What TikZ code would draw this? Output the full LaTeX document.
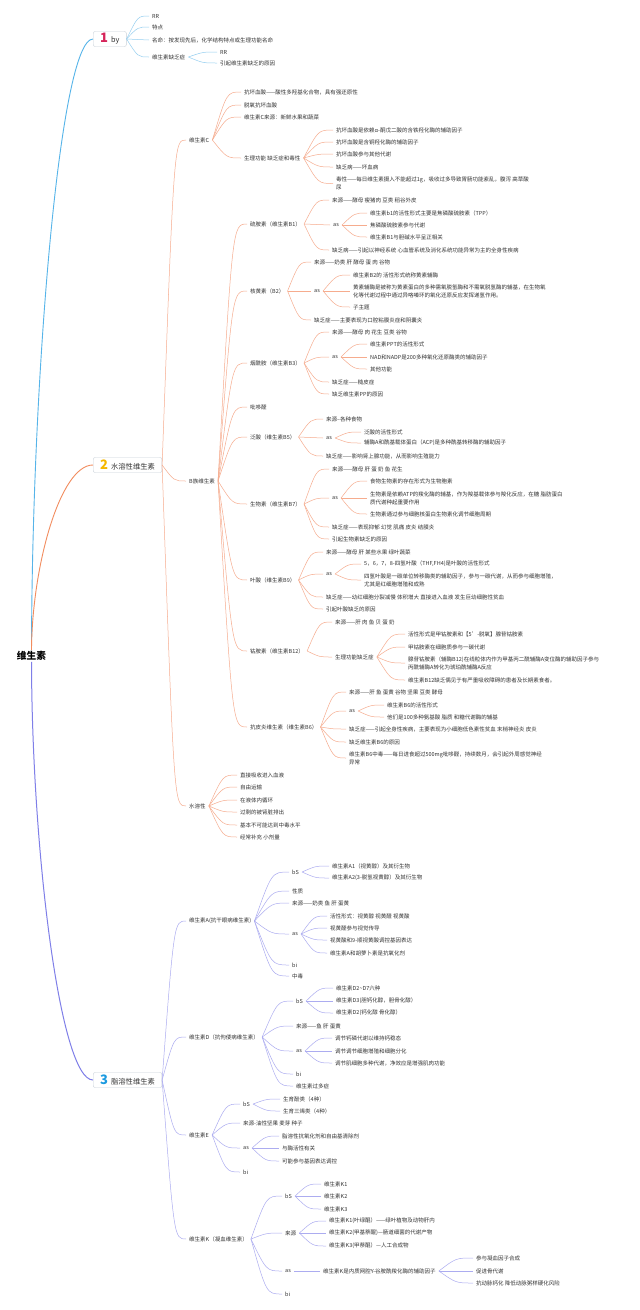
\documentclass[tikz,border=0pt]{standalone}
\usepackage{fontspec}
\setmainfont{Noto Sans CJK SC}
\usepackage{xcolor}
\definecolor{ink}{RGB}{51,51,51}
\definecolor{boxgray}{RGB}{200,208,216}
\definecolor{numRed}{RGB}{214,36,90}
\definecolor{numYellow}{RGB}{245,183,0}
\definecolor{numBlue}{RGB}{27,154,224}
\definecolor{trunkBlue}{RGB}{86,180,233}
\definecolor{trunkOrange}{RGB}{242,140,94}
\definecolor{trunkPurple}{RGB}{127,127,232}
\definecolor{twigBlue}{RGB}{150,207,240}
\definecolor{twigOrange}{RGB}{246,172,142}
\definecolor{twigPurple}{RGB}{172,172,240}
\usetikzlibrary{calc}
\newcommand{\badgenum}[2]{{\fontsize{13}{13}\selectfont\bfseries\color{#1}#2}\hspace{3pt}}

\begin{document}
\begin{tikzpicture}[x=1pt, y=-1pt,
  leaf/.style={anchor=west, xshift=-3pt, inner xsep=3pt, inner ysep=0.5pt,
               font=\fontsize{5.5}{8}\selectfont, text=ink, align=left},
  badge/.style={draw=boxgray, fill=white, rounded corners=2pt, anchor=west,
                minimum height=15pt, inner xsep=7pt, inner ysep=0pt,
                font=\fontsize{7.3}{8}\selectfont, text=ink},
  curvy/.style={to path={let \p1=(\tikztostart), \p2=(\tikztotarget) in
                 .. controls ({0.5*(\x1+\x2)},\y2) .. (\tikztotarget)}},
  blink/.style={draw=twigBlue, line width=0.5pt},
  olink/.style={draw=twigOrange, line width=0.5pt},
  plink/.style={draw=twigPurple, line width=0.5pt}
]
  \path[use as bounding box, fill=white] (0,0) rectangle (640,1310);

  % root and the three main branches
  \node[font=\fontsize{9.7}{10}\selectfont\bfseries, text=black, inner sep=1pt] (root) at (31.5,656) {维生素};
  \node[badge] (b1) at (93,39)   {\badgenum{numRed}{1}by};
  \node[badge] (b2) at (93,465)  {\badgenum{numYellow}{2}水溶性维生素};
  \node[badge] (b3) at (93,1080) {\badgenum{numBlue}{3}脂溶性维生素};

  \draw[trunkBlue, line width=0.9pt]   (root.north) .. controls (32,375) and (60,39) .. (b1.west);
  \draw[trunkOrange, line width=0.9pt] (root.north) .. controls (32,567) and (60,465) .. (b2.west);
  \draw[trunkPurple, line width=1pt]   (root.south) .. controls (32,850) and (60,1080) .. (b3.west);

  % 1 by
  \node[leaf] (r1) at (152,16) {RR};
  \node[leaf] (r2) at (152,27) {特点};
  \node[leaf] (r3) at (152,40) {名命：按发现先后，化学结构特点或生理功能名命};
  \node[leaf] (r4) at (152,57) {维生素缺乏症};
  \node[leaf] (r41) at (220,52) {RR};
  \node[leaf] (r42) at (220,63) {引起维生素缺乏的原因};
  \foreach \c in {r1,r2,r3,r4} \draw[blink] (b1.east) to[curvy] (\c.west);
  \foreach \c in {r41,r42} \draw[blink] (r4.east) to[curvy] (\c.west);

  % 2 水溶性维生素
  \node[leaf] (vc) at (189,140) {维生素C};
  \node[leaf] (vb) at (189,481) {B族维生素};
  \node[leaf] (vs) at (189,806) {水溶性};
  \foreach \c in {vc,vb,vs} \draw[olink] (b2.east) to[curvy] (\c.west);

  % vitamin C
  \node[leaf] (vc1) at (244,92)  {抗坏血酸——酸性多羟基化合物，具有强还原性};
  \node[leaf] (vc2) at (244,105) {脱氧抗坏血酸};
  \node[leaf] (vc3) at (244,117) {维生素C来源：新鲜水果和蔬菜};
  \node[leaf] (vc4) at (244,158) {生理功能 缺乏症和毒性};
  \node[leaf] (vc41) at (336,130) {抗坏血酸是依赖α-酮戊二酸的含铁羟化酶的辅助因子};
  \node[leaf] (vc42) at (336,142) {抗坏血酸是含铜羟化酶的辅助因子};
  \node[leaf] (vc43) at (336,154) {抗坏血酸参与其他代谢};
  \node[leaf] (vc44) at (336,167) {缺乏病——坏血病};
  \node[leaf] (vc45) at (336,183.5) {毒性——每日维生素摄入不能超过1g，吸收过多导致胃肠功能紊乱，腹泻 高草酸\\尿};
  \foreach \c in {vc1,vc2,vc3,vc4} \draw[olink] (vc.east) to[curvy] (\c.west);
  \foreach \c in {vc41,vc42,vc43,vc44,vc45} \draw[olink] (vc4.east) to[curvy] (\c.west);

  % B group
  \node[leaf] (vb1) at (250,224) {硫胺素（维生素B1）};
  \node[leaf] (vb2) at (250,291) {核黄素（B2）};
  \node[leaf] (vb3) at (250,363) {烟酰胺（维生素B3）};
  \node[leaf] (vb4) at (250,407) {吡哆醛};
  \node[leaf] (vb5) at (250,437) {泛酸（维生素B5）};
  \node[leaf] (vb7) at (250,504) {生物素（维生素B7）};
  \node[leaf] (vb9) at (250,580) {叶酸（维生素B9）};
  \node[leaf] (vbt) at (250,651) {钴胺素（维生素B12）};
  \node[leaf] (vb6) at (250,727) {抗皮炎维生素（维生素B6）};
  \foreach \c in {vb1,vb2,vb3,vb4,vb5,vb7,vb9,vbt,vb6} \draw[olink] (vb.east) to[curvy] (\c.west);

  \node[leaf] (vb11) at (332,200) {来源——酵母 瘦猪肉 豆类 稻谷外皮};
  \node[leaf] (vb12) at (333,225) {as};
  \node[leaf] (vb13) at (332,250) {缺乏病——引起以神经系统 心血管系统及消化系统功能异常为主的全身性疾病};
  \node[leaf] (vb121) at (370,213) {维生素b1的活性形式主要是焦磷酸硫胺素（TPP）};
  \node[leaf] (vb122) at (370,225) {焦磷酸硫胺素参与代谢};
  \node[leaf] (vb123) at (370,237) {维生素B1与胆碱水平呈正相关};
  \foreach \c in {vb11,vb12,vb13} \draw[olink] (vb1.east) to[curvy] (\c.west);
  \foreach \c in {vb121,vb122,vb123} \draw[olink] (vb12.east) to[curvy] (\c.west);

  \node[leaf] (vb21) at (314,262) {来源——奶类 肝 酵母 蛋 肉 谷物};
  \node[leaf] (vb22) at (314,291) {as};
  \node[leaf] (vb23) at (314,320) {缺乏症——主要表现为口腔粘膜炎症和阴囊炎};
  \node[leaf] (vb221) at (353,275) {维生素B2的 活性形式统称黄素辅酶};
  \node[leaf] (vb222) at (353,291) {黄素辅酶是被称为黄素蛋白的多种需氧脱氢酶和不需氧脱氢酶的辅基，在生物氧\\化等代谢过程中通过异咯嗪环的氧化还原反应发挥递氢作用。};
  \node[leaf] (vb223) at (353,307) {子主题};
  \foreach \c in {vb21,vb22,vb23} \draw[olink] (vb2.east) to[curvy] (\c.west);
  \foreach \c in {vb221,vb222,vb223} \draw[olink] (vb22.east) to[curvy] (\c.west);

  \node[leaf] (vb31) at (332,332) {来源——酵母 肉 花生 豆类 谷物};
  \node[leaf] (vb32) at (332,357) {as};
  \node[leaf] (vb33) at (332,382) {缺乏症——糙皮症};
  \node[leaf] (vb34) at (332,394) {缺乏维生素PP的原因};
  \node[leaf] (vb321) at (370,344) {维生素PPT的活性形式};
  \node[leaf] (vb322) at (370,357) {NAD和NADP是200多种氧化还原酶类的辅助因子};
  \node[leaf] (vb323) at (370,369) {其他功能};
  \foreach \c in {vb31,vb32,vb33,vb34} \draw[olink] (vb3.east) to[curvy] (\c.west);
  \foreach \c in {vb321,vb322,vb323} \draw[olink] (vb32.east) to[curvy] (\c.west);

  \node[leaf] (vb51) at (326,419) {来源--各种食物};
  \node[leaf] (vb52) at (326,438) {as};
  \node[leaf] (vb53) at (326,456) {缺乏症——影响肾上腺功能，从而影响生殖能力};
  \node[leaf] (vb521) at (364,432) {泛酸的活性形式};
  \node[leaf] (vb522) at (364,443) {辅酶A和酰基载体蛋白（ACP)是多种酰基转移酶的辅助因子};
  \foreach \c in {vb51,vb52,vb53} \draw[olink] (vb5.east) to[curvy] (\c.west);
  \foreach \c in {vb521,vb522} \draw[olink] (vb52.east) to[curvy] (\c.west);

  \node[leaf] (vb71) at (332,469) {来源——酵母 肝 蛋 奶 鱼 花生};
  \node[leaf] (vb72) at (332,498) {as};
  \node[leaf] (vb73) at (332,527) {缺乏症——表现抑郁 幻觉 肌痛 皮炎 结膜炎};
  \node[leaf] (vb74) at (332,539) {引起生物素缺乏的原因};
  \node[leaf] (vb721) at (370,481) {食物生物素的存在形式为生物胞素};
  \node[leaf] (vb722) at (370,498) {生物素是依赖ATP的羧化酶的辅基，作为羧基载体参与羧化反应，在糖 脂肪蛋白\\质代谢种起重要作用};
  \node[leaf] (vb723) at (370,514) {生物素通过参与细胞核蛋白生物素化调节细胞周期};
  \foreach \c in {vb71,vb72,vb73,vb74} \draw[olink] (vb7.east) to[curvy] (\c.west);
  \foreach \c in {vb721,vb722,vb723} \draw[olink] (vb72.east) to[curvy] (\c.west);

  \node[leaf] (vb91) at (326,552) {来源——酵母 肝 某些水果 绿叶蔬菜};
  \node[leaf] (vb92) at (326,574) {as};
  \node[leaf] (vb93) at (326,597) {缺乏症——幼红细胞分裂减慢 体积增大 直接进入血液 发生巨幼细胞性贫血};
  \node[leaf] (vb94) at (326,609) {引起叶酸缺乏的原因};
  \node[leaf] (vb921) at (364,564) {5，6，7，8-四氢叶酸（THF,FH4)是叶酸的活性形式};
  \node[leaf] (vb922) at (364,580) {四氢叶酸是一碳单位转移酶类的辅助因子，参与一碳代谢，从而参与细胞增殖，\\尤其是红细胞增殖和成熟};
  \foreach \c in {vb91,vb92,vb93,vb94} \draw[olink] (vb9.east) to[curvy] (\c.west);
  \foreach \c in {vb921,vb922} \draw[olink] (vb92.east) to[curvy] (\c.west);

  \node[leaf] (vbt1) at (335,622) {来源——肝 肉 鱼 贝 蛋 奶};
  \node[leaf] (vbt2) at (335,657) {生理功能缺乏症};
  \node[leaf] (vbt21) at (408,634) {活性形式是甲钴胺素和【5'-脱氧】腺苷钴胺素};
  \node[leaf] (vbt22) at (408,647) {甲钴胺素在细胞质参与一碳代谢};
  \node[leaf] (vbt23) at (408,663) {腺苷钴胺素（辅酶B12)在线粒体内作为甲基丙二酰辅酶A变位酶的辅助因子参与\\丙酰辅酶A转化为琥珀酰辅酶A反应};
  \node[leaf] (vbt24) at (408,680) {维生素B12缺乏偶见于有严重吸收障碍的患者及长期素食者。};
  \foreach \c in {vbt1,vbt2} \draw[olink] (vbt.east) to[curvy] (\c.west);
  \foreach \c in {vbt21,vbt22,vbt23,vbt24} \draw[olink] (vbt2.east) to[curvy] (\c.west);

  \node[leaf] (vb61) at (349,692) {来源——肝 鱼 蛋黄 谷物 坚果 豆类 酵母};
  \node[leaf] (vb62) at (349,711) {as};
  \node[leaf] (vb63) at (349,729) {缺乏症——引起全身性疾病，主要表现为小细胞低色素性贫血 末梢神经炎 皮炎};
  \node[leaf] (vb64) at (349,742) {缺乏维生素B6的原因};
  \node[leaf] (vb65) at (349,758) {维生素B6中毒——每日进食超过500mg吡哆醛，持续数月，会引起外周感觉神经\\异常};
  \node[leaf] (vb621) at (387,705) {维生素B6的活性形式};
  \node[leaf] (vb622) at (387,717) {他们是100多种氨基酸 脂质 和糖代谢酶的辅基};
  \foreach \c in {vb61,vb62,vb63,vb64,vb65} \draw[olink] (vb6.east) to[curvy] (\c.west);
  \foreach \c in {vb621,vb622} \draw[olink] (vb62.east) to[curvy] (\c.west);

  % water soluble traits
  \node[leaf] (vs1) at (240,775) {直接吸收进入血液};
  \node[leaf] (vs2) at (240,787) {自由运输};
  \node[leaf] (vs3) at (240,800) {在液体内循环};
  \node[leaf] (vs4) at (240,812) {过剩的被肾脏排出};
  \node[leaf] (vs5) at (240,825) {基本不可能达到中毒水平};
  \node[leaf] (vs6) at (240,837) {经常补充 小剂量};
  \foreach \c in {vs1,vs2,vs3,vs4,vs5,vs6} \draw[olink] (vs.east) to[curvy] (\c.west);

  % 3 脂溶性维生素
  \node[leaf] (va) at (189,921)  {维生素A(抗干眼病维生素)};
  \node[leaf] (vd) at (189,1037) {维生素D（抗佝偻病维生素）};
  \node[leaf] (ve) at (189,1135) {维生素E};
  \node[leaf] (vk) at (189,1239) {维生素K（凝血维生素）};
  \foreach \c in {va,vd,ve,vk} \draw[plink] (b3.east) to[curvy] (\c.west);

  % vitamin A
  \node[leaf] (va1) at (292,872) {bS};
  \node[leaf] (va2) at (292,891) {性质};
  \node[leaf] (va3) at (292,903) {来源——奶类 鱼 肝 蛋黄};
  \node[leaf] (va4) at (292,934) {as};
  \node[leaf] (va5) at (292,965) {bi};
  \node[leaf] (va6) at (292,976) {中毒};
  \node[leaf] (va11) at (332,866) {维生素A1（视黄醇）及其衍生物};
  \node[leaf] (va12) at (332,878) {维生素A2(3-脱氢视黄醇）及其衍生物};
  \node[leaf] (va41) at (330,916) {活性形式：视黄醇 视黄醛 视黄酸};
  \node[leaf] (va42) at (330,928) {视黄醛参与视觉传导};
  \node[leaf] (va43) at (330,940) {视黄酸和9-顺视黄酸调控基因表达};
  \node[leaf] (va44) at (330,953) {维生素A和胡萝卜素是抗氧化剂};
  \foreach \c in {va1,va2,va3,va4,va5,va6} \draw[plink] (va.east) to[curvy] (\c.west);
  \foreach \c in {va11,va12} \draw[plink] (va1.east) to[curvy] (\c.west);
  \foreach \c in {va41,va42,va43,va44} \draw[plink] (va4.east) to[curvy] (\c.west);

  % vitamin D
  \node[leaf] (vd1) at (296,1001) {bS};
  \node[leaf] (vd2) at (296,1026) {来源——鱼 肝 蛋黄};
  \node[leaf] (vd3) at (296,1051) {as};
  \node[leaf] (vd4) at (296,1074) {bi};
  \node[leaf] (vd5) at (296,1086) {维生素过多症};
  \node[leaf] (vd11) at (336,988)  {维生素D2\textasciitilde D7六种};
  \node[leaf] (vd12) at (336,1001) {维生素D3(胆钙化醇，胆骨化醇）};
  \node[leaf] (vd13) at (336,1013) {维生素D2(钙化醇 骨化醇）};
  \node[leaf] (vd31) at (335,1038) {调节钙磷代谢以维持钙稳态};
  \node[leaf] (vd32) at (335,1051) {调节调节细胞增殖和细胞分化};
  \node[leaf] (vd33) at (335,1063) {调节肌细胞多种代谢，净效应是增强肌肉功能};
  \foreach \c in {vd1,vd2,vd3,vd4,vd5} \draw[plink] (vd.east) to[curvy] (\c.west);
  \foreach \c in {vd11,vd12,vd13} \draw[plink] (vd1.east) to[curvy] (\c.west);
  \foreach \c in {vd31,vd32,vd33} \draw[plink] (vd3.east) to[curvy] (\c.west);

  % vitamin E
  \node[leaf] (ve1) at (243,1104) {bS};
  \node[leaf] (ve2) at (243,1123) {来源-油性坚果 麦芽 种子};
  \node[leaf] (ve3) at (243,1148) {as};
  \node[leaf] (ve4) at (243,1172) {bi};
  \node[leaf] (ve11) at (283,1099) {生育酚类（4种）};
  \node[leaf] (ve12) at (283,1111) {生育三烯类（4种）};
  \node[leaf] (ve31) at (282,1136) {脂溶性抗氧化剂和自由基清除剂};
  \node[leaf] (ve32) at (282,1148) {与酶活性有关};
  \node[leaf] (ve33) at (282,1161) {可能参与基因表达调控};
  \foreach \c in {ve1,ve2,ve3,ve4} \draw[plink] (ve.east) to[curvy] (\c.west);
  \foreach \c in {ve11,ve12} \draw[plink] (ve1.east) to[curvy] (\c.west);
  \foreach \c in {ve31,ve32,ve33} \draw[plink] (ve3.east) to[curvy] (\c.west);

  % vitamin K
  \node[leaf] (vk1) at (285,1196) {bS};
  \node[leaf] (vk2) at (285,1233) {来源};
  \node[leaf] (vk3) at (285,1271) {as};
  \node[leaf] (vk4) at (285,1294) {bi};
  \node[leaf] (vk11) at (324,1184) {维生素K1};
  \node[leaf] (vk12) at (324,1196) {维生素K2};
  \node[leaf] (vk13) at (324,1209) {维生素K3};
  \node[leaf] (vk21) at (329,1221) {维生素K1(叶绿醌）——绿叶植物及动物肝内};
  \node[leaf] (vk22) at (329,1233) {维生素K2(甲基萘醌)---肠道细菌的代谢产物};
  \node[leaf] (vk23) at (329,1246) {维生素K3(甲萘醌）---人工合成物};
  \node[leaf] (vk31) at (323,1271) {维生素K是内质网腔Y-谷胺酰羧化酶的辅助因子};
  \node[leaf] (vk311) at (476,1258) {参与凝血因子合成};
  \node[leaf] (vk312) at (476,1271) {促进骨代谢};
  \node[leaf] (vk313) at (476,1283) {抗动脉钙化 降低动脉粥样硬化风险};
  \foreach \c in {vk1,vk2,vk3,vk4} \draw[plink] (vk.east) to[curvy] (\c.west);
  \foreach \c in {vk11,vk12,vk13} \draw[plink] (vk1.east) to[curvy] (\c.west);
  \foreach \c in {vk21,vk22,vk23} \draw[plink] (vk2.east) to[curvy] (\c.west);
  \draw[plink] (vk3.east) -- (vk31.west);
  \foreach \c in {vk311,vk312,vk313} \draw[plink] (vk31.east) to[curvy] (\c.west);
\end{tikzpicture}
\end{document}
